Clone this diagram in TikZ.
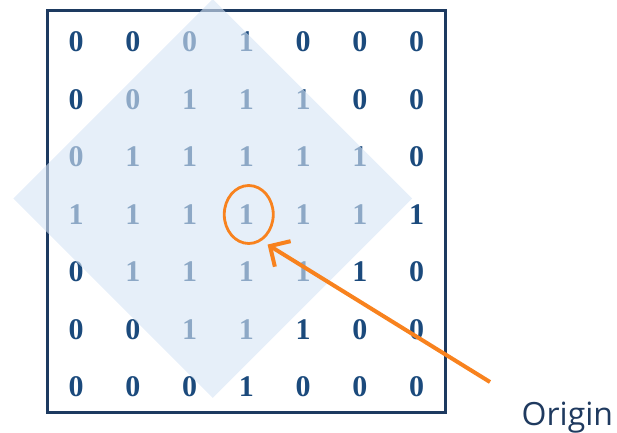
\documentclass[tikz,border=0pt]{standalone}
\usepackage{fontspec}
\setmainfont{Liberation Serif}
\newfontfamily\labelfont{Open Sans}
\usetikzlibrary{arrows.meta,calc,shapes.geometric}
\definecolor{navy}{HTML}{1B4A7C}
\definecolor{framenavy}{HTML}{1D3A60}
\definecolor{veil}{HTML}{D6E5F5}
\definecolor{marker}{HTML}{F8821E}
\definecolor{ink}{HTML}{1F3A5F}
\tikzset{
  pixel/.style={draw=framenavy, line width=2.8pt},
  bit/.style={inner sep=0pt, text=navy, font=\fontsize{30}{30}\selectfont\bfseries},
  % the structuring element: a translucent patch laid over the grid,
  % so the cells under it read paler without a colour of their own.
  window/.style={diamond, fill=veil, fill opacity=0.61, draw=none,
                 inner sep=0pt, minimum width=399pt, minimum height=399pt},
  ring/.style={ellipse, draw=marker, line width=2.8pt, inner sep=0pt,
               minimum width=49pt, minimum height=58pt},
  pointer/.style={draw=marker, line width=4pt,
                  -{Straight Barb[length=15pt,width=30pt]}},
}

\begin{document}
\begin{tikzpicture}[x=1pt,y=-1pt]
  \useasboundingbox (0,0) rectangle (617,432);
  \def\dx{56.75}
  \def\dy{57.5}

  % --- image frame and its binary values -----------------------------------
  \draw[pixel] (47.7,10.5) rectangle (445.3,412.8);
  \foreach \row [count=\r] in {{0,0,0,1,0,0,0},{0,0,1,1,1,0,0},
                               {0,1,1,1,1,1,0},{1,1,1,1,1,1,1},
                               {0,1,1,1,1,1,0},{0,0,1,1,1,0,0},
                               {0,0,0,1,0,0,0}} {
    \foreach \v [count=\c] in \row {
      \node[bit] (d-\r-\c) at ({76+\dx*(\c-1)}, {42+\dy*(\r-1)}) {\v};
    }
  }

  % --- structuring element, drawn over the digits --------------------------
  \node[window] (se) at (212.7,198.5) {};

  % --- origin marker --------------------------------------------------------
  \node[ring] (origin) at ($(d-4-4)+(2.5,0)$) {};
  \coordinate (tail) at (490,382);
  \draw[pointer, shorten >=7pt] (tail) -- (origin.-64);
  \node[anchor=base west, inner sep=0pt, text=ink,
        font=\labelfont\fontsize{32}{32}\selectfont] (label) at (521.5,425) {Origin};

\end{tikzpicture}
\end{document}
